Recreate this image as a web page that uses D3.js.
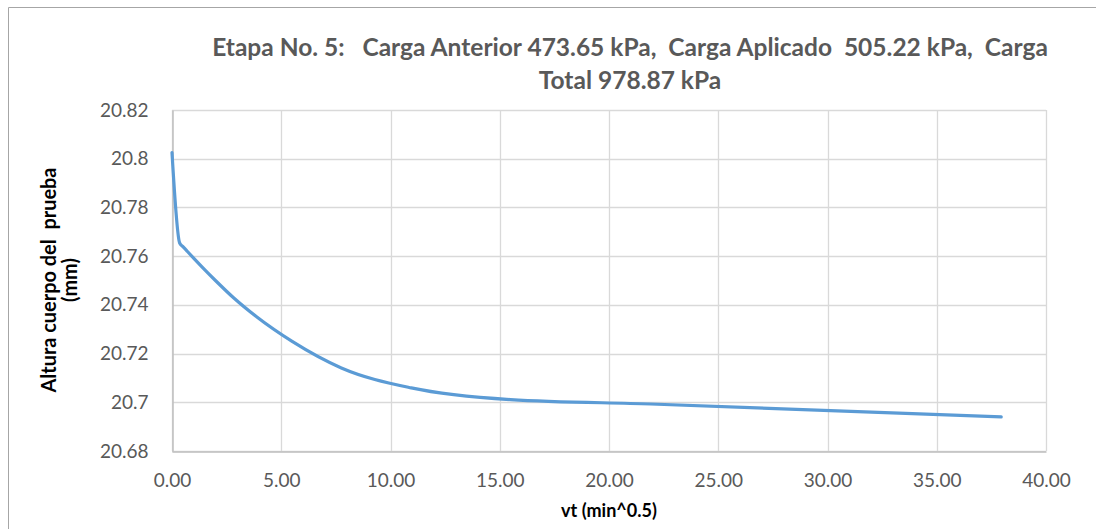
<!DOCTYPE html>
<html>
<head>
<meta charset="utf-8">
<script src="https://cdn.jsdelivr.net/npm/d3@7/dist/d3.min.js"></script>
<style>
  html, body { margin: 0; padding: 0; background: #fff; }
  svg { display: block; }
  text { font-family: Lato, "Open Sans", sans-serif; white-space: pre; }
</style>
</head>
<body>
<svg id="chart" width="1096" height="529"></svg>
<script>
// Square root of elapsed time (min^0.5) and specimen height (mm)
const sqrtTime = [0, 0.35, 0.5, 0.707, 1.0, 1.414, 2.0, 2.83, 3.87, 5.48, 7.75, 10.95, 15.49, 21.91, 37.95];
const specimenHeight = [20.8025, 20.7654, 20.7639, 20.7619, 20.7591, 20.7552, 20.7499, 20.7428, 20.7351, 20.7251, 20.7141, 20.7059, 20.7011, 20.6993, 20.6940];

const xTickValues = [0, 5, 10, 15, 20, 25, 30, 35, 40];
const xTickLabels = ["0.00", "5.00", "10.00", "15.00", "20.00", "25.00", "30.00", "35.00", "40.00"];
const yTickValues = [20.68, 20.70, 20.72, 20.74, 20.76, 20.78, 20.80, 20.82];
const yTickLabels = ["20.68", "20.7", "20.72", "20.74", "20.76", "20.78", "20.8", "20.82"];

const titleLines = [
  "Etapa No. 5:   Carga Anterior 473.65 kPa,  Carga Aplicado  505.22 kPa,  Carga",
  "Total 978.87 kPa"
];
const yTitleLines = ["Altura cuerpo del  prueba", "(mm)"];
const xTitle = "vt (min^0.5)";

const svg = d3.select("#chart");
const plot = { left: 172, right: 1046, top: 110, bottom: 451 };

const x = d3.scaleLinear().domain([0, 40]).range([plot.left, plot.right]);
const y = d3.scaleLinear().domain([20.68, 20.82]).range([plot.bottom, plot.top]);

// Scale a text group's font so its widest line spans the given width
function fitFont(sel, baseSize, targetWidth) {
  sel.style("font-size", baseSize + "px");
  let w = 0;
  sel.each(function () { w = Math.max(w, this.getComputedTextLength()); });
  if (w > 0) sel.style("font-size", (baseSize * targetWidth / w).toFixed(2) + "px");
}

// Chart frame
svg.append("path")
  .attr("d", "M8.5,529 L8.5,7.5 L1096,7.5")
  .attr("fill", "none")
  .attr("stroke", "#a6a6a6")
  .attr("stroke-width", 1);

// Gridlines
const grid = svg.append("g");
grid.selectAll("line.v").data(xTickValues).join("line")
  .attr("x1", d => Math.round(x(d)) + 0.5).attr("x2", d => Math.round(x(d)) + 0.5)
  .attr("y1", plot.top).attr("y2", plot.bottom)
  .attr("stroke", "#d9d9d9").attr("stroke-width", 1.3);
grid.selectAll("line.h").data(yTickValues).join("line")
  .attr("x1", plot.left).attr("x2", plot.right)
  .attr("y1", d => Math.round(y(d)) + 0.5).attr("y2", d => Math.round(y(d)) + 0.5)
  .attr("stroke", "#d9d9d9").attr("stroke-width", 1.3);

// Axes
const xAxis = d3.axisBottom(x).tickValues(xTickValues)
  .tickFormat((d, i) => xTickLabels[i]).tickSize(0).tickPadding(22);
const yAxis = d3.axisLeft(y).tickValues(yTickValues)
  .tickFormat((d, i) => yTickLabels[i]).tickSize(0).tickPadding(24);

const gx = svg.append("g").attr("transform", `translate(0,${plot.bottom + 0.5})`).call(xAxis);
const gy = svg.append("g").attr("transform", `translate(${plot.left + 0.5},0)`).call(yAxis);
[gx, gy].forEach(g => {
  g.select(".domain").attr("stroke", "#bfbfbf").attr("stroke-width", 1.5);
  g.selectAll("text").attr("fill", "#595959").style("font-size", "19px")
    .style("font-family", "Lato, sans-serif");
});

// Series line
const line = d3.line()
  .x((d, i) => x(sqrtTime[i]))
  .y(d => y(d))
  .curve(d3.curveMonotoneX);
svg.append("path")
  .datum(specimenHeight)
  .attr("d", line)
  .attr("fill", "none")
  .attr("stroke", "#5b9bd5")
  .attr("stroke-width", 3.2)
  .attr("stroke-linejoin", "round")
  .attr("stroke-linecap", "round");

// Title
const title = svg.append("g").selectAll("text").data(titleLines).join("text")
  .attr("x", 630).attr("y", (d, i) => 56 + i * 33)
  .attr("text-anchor", "middle")
  .attr("fill", "#595959")
  .style("font-weight", "bold")
  .text(d => d);
fitFont(title, 20, 836);

// Axis titles
const xt = svg.append("text")
  .attr("x", x(20)).attr("y", 517)
  .attr("text-anchor", "middle")
  .attr("fill", "#000")
  .style("font-weight", "bold")
  .text(xTitle);
fitFont(xt, 15, 96);

const yt = svg.append("g").attr("transform", "translate(56,280) rotate(-90)")
  .selectAll("text").data(yTitleLines).join("text")
  .attr("x", 0).attr("y", (d, i) => i * 21)
  .attr("text-anchor", "middle")
  .attr("fill", "#000")
  .style("font-weight", "bold")
  .text(d => d);
fitFont(yt, 16, 225);
</script>
</body>
</html>
